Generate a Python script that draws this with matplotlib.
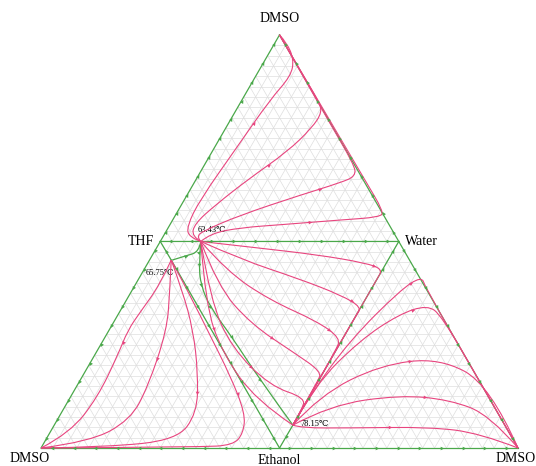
import numpy as np
import matplotlib
matplotlib.use('Agg')
import matplotlib.pyplot as plt
from matplotlib.path import Path
from matplotlib.patches import PathPatch
from matplotlib.markers import MarkerStyle
from matplotlib.transforms import Affine2D

H = np.sqrt(3) / 2 * 100  # height of the big triangle (side = 100)

# ---- labels ----
vertex_labels = ['DMSO', 'THF', 'Water', 'DMSO', 'Ethanol', 'DMSO']
vertex_xy = [(50, H), (25, H / 2), (75, H / 2), (0, 0), (50, 0), (100, 0)]

azeo_labels = ['63.43\u2103', '65.75\u2103', '78.15\u2103']
azeo_xy = [(33.5, 43.3), (27.3, 39.4), (52.8, 4.8)]

# ---- residue curves (pink), diagram coordinates ----
top_curves = [
    [(33.5, 43.3), (31.0, 44.2), (30.6, 46.5), (33.3, 52.0), (41.1, 63.1), (48.0, 73.0), (52.4, 78.0), (53.0, 81.5), (51.5, 85.0), (50, H)],
    [(33.5, 43.3), (31.6, 44.4), (32.2, 47.0), (36.5, 50.9), (43.8, 56.6), (51.6, 62.1), (56.8, 67.1), (59.0, 70.5), (58.0, 73.0), (55.0, 78.0), (50, H)],
    [(33.5, 43.3), (32.6, 44.3), (34.0, 45.5), (41.7, 48.8), (54.3, 53.0), (62.7, 55.6), (66.0, 57.0), (65.6, 59.5), (60.0, 69.0), (50, H)],
    [(33.5, 43.3), (35.5, 45.0), (42.0, 46.2), (50.1, 46.8), (62.7, 47.8), (71.1, 48.4), (71.8, 49.6), (68.0, 56.0), (50, H)],
]
center_curves = [
    [(33.5, 43.3), (45, 42), (58, 40.5), (68, 38.8), (71.6, 37.5), (70.5, 35.5), (62, 20.8), (52.8, 4.8)],
    [(33.5, 43.3), (42, 39.5), (54, 35.5), (63, 32), (67.2, 29.5), (66.0, 27.7), (60, 17.3), (52.8, 4.8)],
    [(33.5, 43.3), (39, 37), (48, 31), (58, 26.5), (62.8, 23.0), (61.8, 20.5), (57, 12.1), (52.8, 4.8)],
    [(33.5, 43.3), (37, 34), (44, 26), (53, 20), (58.8, 16.0), (58.0, 13.9), (52.8, 4.8)],
    [(33.5, 43.3), (35.5, 31), (40, 21), (48, 13), (55.5, 10.5), (54.5, 7.8), (52.8, 4.8)],
    [(33.5, 43.3), (34.5, 30), (38, 20), (45, 10), (52.8, 4.8)],
]
left_curves = [
    [(27.3, 39.4), (24.9, 34.2), (20.8, 28.5), (18.2, 24.7), (16.1, 19.5), (11.9, 10.7), (6.1, 3.2), (0.2, 0.1)],
    [(27.3, 39.4), (27.0, 33.1), (26.4, 24.7), (22.4, 12.8), (18.7, 5.9), (10.3, 1.3), (0, 0)],
    [(27.3, 39.4), (29.6, 33.1), (31.9, 24.7), (32.9, 15.7), (32.7, 7.3), (28.5, 1.7), (13.8, 0.2), (0, 0)],
    [(27.3, 39.4), (31.2, 32.1), (35.4, 23.7), (39.6, 15.3), (42.8, 7.3), (42.4, 3.1), (40.3, 0.6), (33.3, 0.2), (0, 0)],
]
right_curves = [
    [(52.8, 4.8), (54.5, 4.2), (64.8, 4.2), (81.6, 4.4), (92.0, 3.1), (100, 0)],
    [(52.8, 4.8), (60.6, 9.0), (75.3, 11.1), (85.7, 10.1), (94.1, 6.9), (100, 0)],
    [(52.8, 4.8), (58.5, 11.1), (71.1, 17.4), (83.6, 18.9), (94.1, 13.2), (100, 0)],
    [(52.8, 4.8), (57.4, 13.2), (66.9, 22.6), (75.0, 28.0), (81.0, 30.0), (84.0, 27.7), (92.0, 13.9), (100, 0)],
    [(52.8, 4.8), (56.4, 11.1), (64.8, 22.6), (75.3, 33.1), (79.8, 36.0), (80.5, 33.8), (90.0, 17.3), (100, 0)],
]

# ---- separatrices (green) ----
separatrices = [
    [(27.5, 39.4), (30.4, 40.3), (33.1, 41.1), (33.5, 43.3)],
    [(33.5, 43.3), (33.1, 38.4), (33.5, 34.2), (35.4, 29.6), (40.0, 23.3), (45.9, 14.3), (52.8, 4.8)],
]

# green boundary segments, listed from lower- to higher-boiling end (flow direction)
boundaries = [
    ((33.5, 43.3), (25, H / 2)), ((33.5, 43.3), (75, H / 2)),
    ((27.3, 39.4), (25, H / 2)), ((27.3, 39.4), (50, 0)),
    ((52.8, 4.8), (75, H / 2)), ((52.8, 4.8), (50, 0)),
    ((25, H / 2), (50, H)), ((25, H / 2), (0, 0)),
    ((75, H / 2), (50, H)), ((75, H / 2), (100, 0)),
    ((50, 0), (0, 0)), ((50, 0), (100, 0)),
]

GREEN = '#4aa84a'
PINK = '#e8457f'
GRID = '#dedede'
N_GRID = 40


def smooth_path(pts):
    """Quadratic-Bezier path through the midpoints of the given points."""
    pts = np.asarray(pts, float)
    if len(pts) < 3:
        return Path(pts)
    verts = [pts[0]]
    codes = [Path.MOVETO]
    for i in range(1, len(pts) - 1):
        end = pts[i + 1] if i == len(pts) - 2 else (pts[i] + pts[i + 1]) / 2
        verts += [pts[i], end]
        codes += [Path.CURVE3, Path.CURVE3]
    return Path(verts, codes)


def arrow(ax, p, d, color, size):
    ang = np.degrees(np.arctan2(d[1], d[0]))
    m = MarkerStyle('>', transform=Affine2D().rotate_deg(ang))
    ax.plot([p[0]], [p[1]], marker=m, ms=size, color=color, mec='none', zorder=5)


fig = plt.figure(figsize=(5.36, 4.66), dpi=100)
ax = fig.add_axes([0, 0, 1, 1])
ax.set_xlim(-8.6, 103.77)
ax.set_ylim(-3.77, 93.92)
ax.set_aspect('equal')
ax.axis('off')

# grid
for k in range(1, N_GRID):
    f = k / N_GRID
    y = f * H
    ax.plot([f * 50, 100 - f * 50], [y, y], color=GRID, lw=0.5, zorder=1)
    ax.plot([f * 100, 50 + f * 50], [0, (1 - f) * H], color=GRID, lw=0.5, zorder=1)
    ax.plot([f * 100, f * 50], [0, f * H], color=GRID, lw=0.5, zorder=1)

# triangle edges
for a, b in boundaries:
    ax.plot([a[0], b[0]], [a[1], b[1]], color=GREEN, lw=0.9, zorder=2)
    a = np.array(a); b = np.array(b)
    L = np.hypot(*(b - a))
    n = max(1, int(L / 4.2))
    for j in range(1, n + 1):
        t = (j - 0.5) / n
        arrow(ax, a + t * (b - a), b - a, GREEN, 2.6)

for s in separatrices:
    ax.add_patch(PathPatch(smooth_path(s), fc='none', ec=GREEN, lw=0.9, zorder=3))
    s = np.array(s)
    for i in range(1, len(s) - 1):
        arrow(ax, s[i], s[i + 1] - s[i - 1], GREEN, 2.6)

for group in (top_curves, center_curves, left_curves, right_curves):
    for c in group:
        ax.add_patch(PathPatch(smooth_path(c), fc='none', ec=PINK, lw=0.8, zorder=4))
        c = np.array(c)
        i = len(c) // 2
        arrow(ax, (c[i - 1] + c[i]) / 2, c[i] - c[i - 1], PINK, 2.6)

fam = ['Liberation Serif', 'DejaVu Serif']
offsets = [(0, 3.4, 'center', 'center'), (-1.2, 0, 'right', 'center'), (1.2, 0, 'left', 'center'),
           (-6.5, -2.2, 'left', 'center'), (0, -2.6, 'center', 'center'), (-4.8, -2.2, 'left', 'center')]
for name, (x, y), (dx, dy, ha, va) in zip(vertex_labels, vertex_xy, offsets):
    ax.text(x + dx, y + dy, name, ha=ha, va=va, fontsize=10, family=fam)

lab_off = [(-0.6, 2.5), (-5.3, -2.8), (1.5, 0.2)]
for name, (x, y), (dx, dy) in zip(azeo_labels, azeo_xy, lab_off):
    ax.text(x + dx, y + dy, name, ha='left', va='center', fontsize=6, family=fam)

fig.savefig('out.png', dpi=100)
